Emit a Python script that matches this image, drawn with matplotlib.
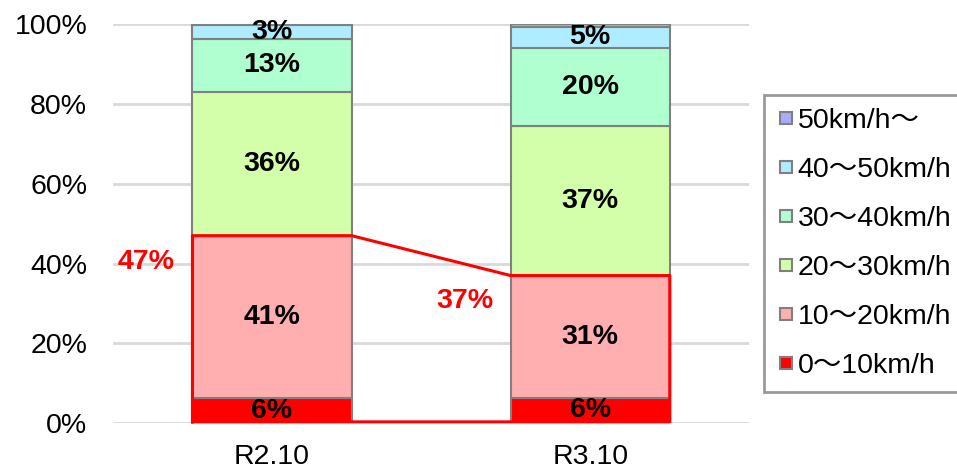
import matplotlib
matplotlib.use("Agg")
import matplotlib.pyplot as plt
from matplotlib.lines import Line2D
from matplotlib.patches import Rectangle
import numpy as np

plt.rcParams['font.family'] = ['Liberation Sans', 'Noto Sans CJK JP', 'DejaVu Sans']

# data (share in %, bottom to top)
periods = ['R2.10', 'R3.10']
speed_bands = ['0〜10km/h', '10〜20km/h', '20〜30km/h', '30〜40km/h', '40〜50km/h', '50km/h〜']
share_r2 = [6.2, 40.8, 36.0, 13.4, 3.4, 0.2]
share_r3 = [6.3, 30.7, 37.4, 19.8, 5.1, 0.7]
band_colors = ['#FF0000', '#FFAFAF', '#D4FFAA', '#B0FFD0', '#B0ECFF', '#AAAAFF']

values = np.array([share_r2, share_r3])  # rows = periods
x = np.arange(len(periods))
bar_w = 0.5

fig = plt.figure(figsize=(9.57, 4.69), dpi=100)
ax = fig.add_axes([0.118, 0.098, 0.665, 0.850])

bottom = np.zeros(len(periods))
for i, band in enumerate(speed_bands):
    vals = values[:, i]
    ax.bar(x, vals, bar_w, bottom=bottom, color=band_colors[i],
           edgecolor='#808080', linewidth=1.5, zorder=2)
    for j in range(len(periods)):
        if vals[j] >= 1:
            t = ax.text(x[j], bottom[j] + vals[j] / 2, f'{round(vals[j])}%',
                        ha='center', va='center', fontsize=20.5,
                        fontweight='bold', color='black', zorder=4)
            if i == 0:
                # bottom label gets cut off like in the original
                t.set_clip_path(Rectangle((-1, 1.6), 4, 100, transform=ax.transData))
    bottom += vals

# red outline around the two slowest bands
slow = values[:, 0] + values[:, 1]
lx = x - bar_w / 2
rx = x + bar_w / 2
px = [lx[0], lx[0], rx[0], lx[1], rx[1], rx[1], lx[0]]
py = [0.3, slow[0], slow[0], slow[1], slow[1], 0.3, 0.3]
ax.plot(px, py, color='#FF0000', linewidth=2.2, zorder=5, clip_on=False)
for j in range(len(periods)):
    ax.text(lx[j] - 0.055, slow[j] - 6.5, f'{round(slow[j])}%', ha='right',
            va='center', fontsize=20.5, fontweight='bold', color='#FF0000')

ax.set_xlim(-0.5, 1.5)
ax.set_ylim(0, 100)
ax.set_yticks(range(0, 101, 20))
ax.set_yticklabels([f'{v}%' for v in range(0, 101, 20)])
ax.set_xticks(x)
ax.set_xticklabels(periods)
ax.tick_params(axis='both', length=0, labelsize=20.5)
ax.tick_params(axis='x', pad=15)
ax.tick_params(axis='y', pad=18.5)
ax.yaxis.grid(True, color='#D9D9D9', linewidth=2)
ax.set_axisbelow(True)
for s in ax.spines.values():
    s.set_visible(False)

handles = [Line2D([], [], marker='s', linestyle='none', markersize=8,
                  markerfacecolor=band_colors[i], markeredgecolor='#808080',
                  markeredgewidth=1.5) for i in range(len(speed_bands))]
leg = fig.legend(handles[::-1], speed_bands[::-1], loc='upper left',
                 bbox_to_anchor=(0.798, 0.797), fontsize=20.5, frameon=True,
                 fancybox=False, edgecolor='#808080', handlelength=0.65,
                 handletextpad=0.1, labelspacing=0.81, borderpad=0.45,
                 borderaxespad=0)
leg.get_frame().set_linewidth(2)

fig.savefig('out.png', dpi=100)
